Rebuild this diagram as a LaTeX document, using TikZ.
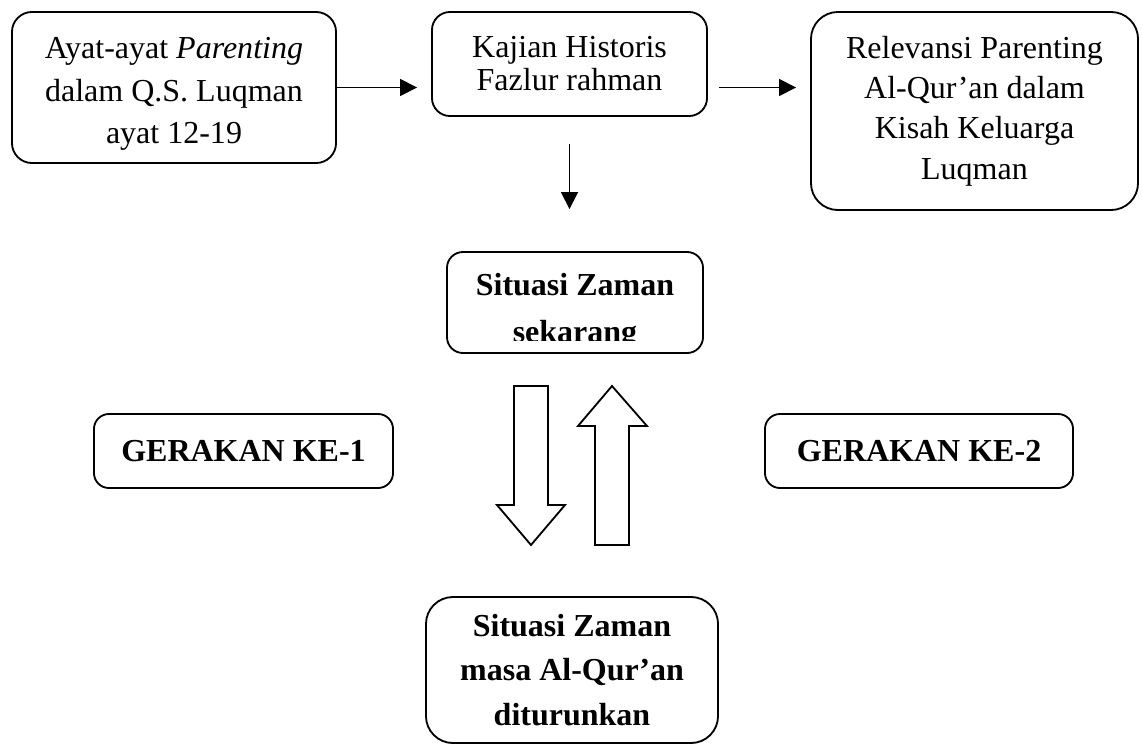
\documentclass[tikz,border=0pt]{standalone}
\usepackage{fontspec}
\setmainfont{Liberation Serif}
\usetikzlibrary{arrows.meta,calc}

\begin{document}
\begin{tikzpicture}[x=0.025cm,y=-0.025cm,
  box/.style={draw,line width=1.3pt,rounded corners=0.45cm,align=center},
  flow/.style={line width=1.2pt,-{Triangle[length=12pt,width=12pt]}},
  block/.style={draw,line width=1.3pt,fill=white,line join=miter}]
\useasboundingbox (0,0) rectangle (1142,744);

% Top row
\node[box,minimum width=8.1cm,minimum height=3.775cm,rounded corners=0.5cm] (ayat) at (174,87.5) {};
\node[align=center,font=\fontsize{22.76}{30.2}\selectfont] (ayattext) at (174,94)
  {Ayat-ayat \textit{Parenting}\\dalam Q.S. Luqman\\ayat 12-19};
\node[box,minimum width=6.875cm,minimum height=2.6cm,
  font=\fontsize{22.76}{23.5}\selectfont] (kajian) at (569.5,64)
  {Kajian Historis\\Fazlur rahman};
\node[box,minimum width=8.175cm,minimum height=4.95cm,rounded corners=0.675cm,
  font=\fontsize{22.76}{28.7}\selectfont] (relevansi) at (974.5,111)
  {Relevansi Parenting\\Al-Qur'an dalam\\Kisah Keluarga\\Luqman};

\draw[flow,shorten >=0.35cm] (ayat.east) -- (ayat.east -| kajian.west);
\draw[flow,shorten <=0.275cm,shorten >=0.35cm] (kajian.east |- ayat.east) -- (relevansi.west |- ayat.east);

% Situasi sekarang (text cut off by the box)
\node[box,minimum width=6.4cm,minimum height=2.525cm,rounded corners=0.4cm] (sekarang) at (575,302.5) {};
\begin{scope}
  \clip (sekarang.north west) rectangle (sekarang.east |- 0,340);
  \node[align=center,font=\bfseries\fontsize{22.76}{33.4}\selectfont] (sekarangtext) at (575,311)
    {Situasi Zaman\\sekarang};
\end{scope}
\draw[flow,shorten <=0.675cm,shorten >=1.05cm] (kajian.south) -- (kajian.south |- sekarang.north);

% Gerakan
\node[box,minimum width=7.475cm,minimum height=1.85cm,rounded corners=0.375cm,
  font=\bfseries\fontsize{22.76}{27}\selectfont] (gerak1) at (243.5,451) {GERAKAN KE-1};
\node[box,minimum width=7.7cm,minimum height=1.85cm,rounded corners=0.375cm,
  font=\bfseries\fontsize{22.76}{27}\selectfont] (gerak2) at (919,451) {GERAKAN KE-2};

% Block arrows
\draw[block] (514,386) -- (548,386) -- (548,505) -- (565,505) -- (531,545)
  -- (497,505) -- (514,505) -- cycle;
\draw[block] (595,545) -- (629,545) -- (629,426) -- (647,426) -- (612,386)
  -- (578,426) -- (595,426) -- cycle;

% Situasi masa Al-Qur'an
\node[box,minimum width=7.3cm,minimum height=3.65cm,rounded corners=0.675cm,
  font=\bfseries\fontsize{22.76}{31.7}\selectfont] (masa) at (572,670)
  {Situasi Zaman\\masa Al-Qur'an\\diturunkan};
\end{tikzpicture}
\end{document}
